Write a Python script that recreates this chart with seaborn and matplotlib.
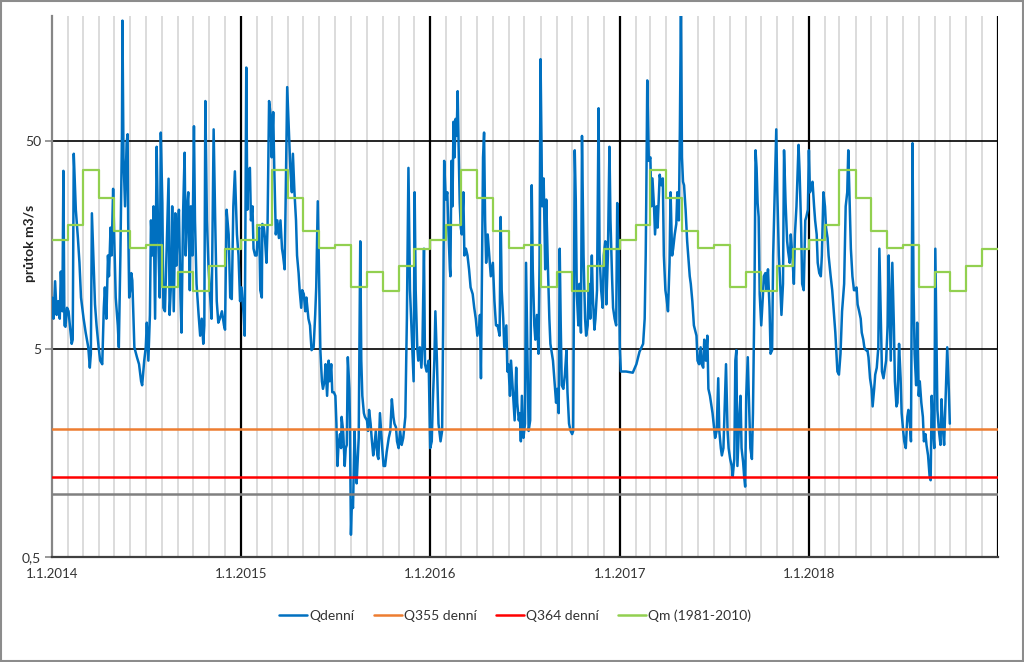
import matplotlib
matplotlib.use("Agg")
import matplotlib.pyplot as plt
import seaborn as sns
import numpy as np
import pandas as pd
from matplotlib.lines import Line2D
from matplotlib.patches import Rectangle
from matplotlib.ticker import FixedLocator, NullLocator

sns.set_theme(style="white")
plt.rcParams["font.family"] = ["Lato", "DejaVu Sans"]

# ---- data (days since 1.1.2014, daily discharge m3/s) ----
qd_day = [
    0, 3, 6, 9, 12, 15, 17, 20, 22, 24, 26, 29, 32, 34, 38, 40, 42, 46, 50, 53,
    56, 61, 65, 70, 73, 75, 77, 80, 83, 86, 90, 93, 97, 100, 102, 105, 108, 110, 113, 115,
    118, 120, 123, 127, 129, 132, 135, 136, 138, 141, 144, 146, 147, 149, 151, 153, 155, 159, 164, 168,
    172, 174, 178, 181, 183, 186, 189, 191, 194, 196, 199, 202, 205, 208, 210, 213, 215, 218, 221, 225,
    227, 230, 232, 235, 238, 240, 243, 245, 248, 250, 253, 256, 258, 261, 263, 266, 268, 271, 274, 276,
    279, 283, 286, 289, 292, 294, 296, 299, 302, 305, 308, 312, 315, 318, 321, 324, 328, 332, 334, 337,
    341, 344, 347, 350, 353, 357, 360, 363, 366, 370, 372,
    373, 375, 377, 379, 382, 384, 387, 389, 392, 395, 397, 400, 402, 405, 406, 409, 411, 414, 416, 419,
    422, 424, 427, 429, 432, 435, 438, 441, 444, 446, 449, 451, 454, 457, 460, 463, 465, 468, 471, 473,
    476, 478, 481, 483, 486, 489, 491, 495, 498, 501, 505, 508, 510, 513, 516, 518, 521, 523, 526, 528,
    531, 534, 536, 539, 541, 544, 547, 549, 551, 553, 556, 558, 559, 562, 565, 567, 569, 571, 574, 575,
    577, 579, 581, 584, 586, 588, 592, 595, 597, 599, 602, 604, 608, 610, 612, 615, 617, 620, 622, 625,
    628, 630, 633, 637, 640, 643, 646, 650, 653, 656, 659, 661, 664, 666, 669, 672, 675, 678, 682, 685,
    688, 691, 695, 698, 700, 702, 705, 707, 710, 713, 715, 718, 720, 723, 727,
    730, 733, 735, 738, 740, 743, 746, 750, 753, 755, 757, 760, 763, 765, 768, 769, 771, 773, 775, 777,
    779, 781, 783, 785, 787, 789, 791, 794, 796, 799, 802, 805, 808, 812, 815, 818, 821, 825, 826, 828,
    830, 832, 834, 836, 838, 841, 844, 847, 851, 854, 857, 860, 864, 866, 868, 871, 873, 877, 879, 881,
    884, 886, 890, 893, 896, 898, 901, 903, 905, 907, 910, 913, 915, 918, 920, 923, 926, 928, 931, 933,
    936, 939, 941, 943, 945, 946, 949, 952, 954, 957, 960, 962, 965, 967, 970, 973, 975, 978, 980, 982,
    984, 987, 990, 993, 995, 998, 1001, 1004, 1006, 1009, 1011, 1013, 1016, 1018, 1021, 1023, 1026, 1029, 1031, 1034,
    1036, 1039, 1042, 1044, 1047, 1049, 1052, 1055, 1057, 1060, 1063, 1065, 1068, 1070, 1073, 1076, 1078, 1081, 1083, 1086,
    1089, 1091, 1094, 1096,
    1098, 1108, 1121, 1128, 1134, 1141, 1144, 1146, 1147, 1149, 1151, 1152, 1155, 1157, 1159, 1162, 1164, 1167, 1169, 1173,
    1176, 1179, 1181, 1184, 1186, 1189, 1192, 1194, 1197, 1199, 1202, 1205, 1207, 1210, 1212, 1214, 1216, 1218, 1220, 1223,
    1226, 1228, 1231, 1233, 1236, 1239, 1241, 1244, 1246, 1249, 1252, 1254, 1257, 1259, 1262, 1265, 1267, 1270, 1272, 1275,
    1278, 1280, 1283, 1286, 1288, 1291, 1293, 1296, 1299, 1301, 1304, 1306, 1309, 1312, 1314, 1317, 1319, 1321, 1323, 1327,
    1329, 1331, 1334, 1336, 1338, 1340, 1343, 1345, 1348, 1351, 1353, 1356, 1358, 1360, 1362, 1364, 1366, 1369, 1372, 1374,
    1377, 1379, 1382, 1385, 1387, 1390, 1392, 1395, 1398, 1400, 1403, 1405, 1408, 1411, 1413, 1416, 1419, 1421, 1424, 1426,
    1429, 1432, 1434, 1437, 1441, 1443, 1446, 1448, 1451, 1454, 1456, 1459, 1461,
    1463, 1465, 1468, 1471, 1473, 1476, 1478, 1481, 1484, 1486, 1489, 1492, 1494, 1497, 1499, 1503, 1506, 1509, 1512, 1516,
    1519, 1522, 1525, 1529, 1532, 1535, 1537, 1540, 1542, 1545, 1548, 1550, 1553, 1555, 1558, 1561, 1563, 1566, 1568, 1571,
    1574, 1576, 1579, 1582, 1584, 1587, 1589, 1592, 1595, 1597, 1600, 1602, 1605, 1608, 1610, 1613, 1615, 1617, 1619, 1622,
    1625, 1627, 1630, 1632, 1635, 1638, 1640, 1643, 1645, 1648, 1651, 1653, 1656, 1658, 1661, 1663, 1665, 1668, 1670, 1673,
    1675, 1678, 1681, 1683, 1686, 1688, 1691, 1694, 1696, 1698, 1700, 1703, 1705, 1707, 1709, 1712, 1715, 1717, 1720, 1722,
    1725, 1728, 1731, 1733,
]
qd_val = [
    8.85, 7.0, 10.6, 7.3, 8.5, 7.0, 11.8, 7.6, 36, 6.5, 6.4, 7.9, 7.6, 6.7, 5.3, 5.55, 43.5, 23.4, 17.1, 13,
    8.85, 7.0, 6.0, 5.1, 4.07, 4.75, 22.5, 13.6, 8.2, 6.5, 5.1, 4.4, 4.23, 7.9, 9.9, 7.0, 14.1, 11.2, 19.2, 14.1,
    29.5, 17.8, 8.85, 6.5, 5.1, 14.1, 53, 190, 41.8, 24.3, 49, 54, 20.8, 8.85, 9.6, 11.6, 10.7, 5.1, 4.57, 4.23,
    3.5, 3.35, 4.4, 5.1, 6.7, 4.4, 7.3, 20.8, 14.1, 24.3, 7.0, 47, 17.1, 8.85, 55, 25.2, 7.9, 7.6, 14.1, 33,
    7.3, 10.7, 24.3, 7.6, 22.5, 12.6, 19.2, 23.4, 8.85, 6.0, 22.5, 44, 14.1, 24.3, 28.4, 9.6, 24.3, 14.1, 59, 20.8,
    10.3, 7.3, 5.8, 7.0, 5.3, 6.5, 78, 20.8, 12.6, 9.2, 7.0, 57, 20.8, 8.5, 6.7, 7.0, 7.6, 6.5, 6.2, 23.4,
    17.8, 8.85, 8.7, 24.3, 35.8, 17.8, 14.1, 8.5, 9.9, 7.3, 5.8,
    14.1, 113, 23.4, 35.8, 37.2, 20.8, 24.3, 15.2, 14.1, 14.1, 17.8, 19.2, 9.6, 8.85, 20, 19.2, 17.1, 13, 19.2, 78,
    67, 41.8, 69, 37.2, 17.8, 20.8, 17.1, 20.8, 15.2, 14.1, 12.1, 26.2, 91, 59, 37.2, 28.4, 43.5, 28.4, 20.8, 14.1,
    11.6, 9.6, 7.9, 9.6, 9.2, 7.6, 8.85, 7.0, 6.5, 4.94, 5.1, 7.3, 9.9, 25.7, 9.6, 4.94, 3.5, 3.22, 3.5, 4.23,
    2.98, 4.4, 3.5, 4.23, 3.1, 3.1, 2.98, 2.19, 1.37, 1.73, 1.95, 1.67, 2.36, 2.02, 1.37, 1.67, 1.73, 4.57, 3.22, 2.27,
    0.64, 0.93, 0.86, 2.02, 1.37, 1.13, 1.87, 16.5, 4.4, 2.98, 2.46, 2.36, 2.27, 2.02, 2.55, 2.19, 1.87, 1.54, 1.67, 2.02,
    1.54, 1.48, 2.46, 1.73, 1.37, 1.37, 1.6, 1.87, 2.02, 2.87, 2.36, 2.19, 2.1, 1.8, 1.67, 2.02, 1.73, 1.87, 2.36, 7.0,
    37.2, 9.6, 5.3, 3.5, 28.4, 9.6, 5.1, 4.4, 5.1, 4.07, 5.1, 15.2, 4.23, 3.9, 4.4,
    1.67, 1.8, 2.76, 4.4, 7.6, 4.4, 2.19, 1.8, 2.02, 6.5, 40.2, 26.2, 28.4, 19.2, 12.1, 11.2, 40.2, 24.3, 62, 41.8,
    64, 53, 87, 45.2, 25.2, 19.2, 17.8, 28.4, 14.1, 15.2, 14.1, 12.1, 9.9, 9.2, 7.9, 7.0, 5.8, 6.5, 7.3, 3.62,
    13, 41.8, 55, 20.8, 13, 17.8, 14.1, 11.2, 13, 8.5, 6.5, 6.5, 5.8, 21.6, 9.6, 7.0, 5.1, 6.5, 3.9, 4.23,
    2.98, 4.4, 2.98, 2.27, 4.07, 2.76, 2.27, 2.46, 1.8, 2.98, 1.87, 2.19, 13, 4.4, 2.02, 2.27, 30.7, 12.1, 6.5, 5.55,
    7.3, 4.75, 12.6, 124, 45.2, 24.3, 33.1, 12.1, 26.2, 13, 7.0, 5.3, 4.75, 4.4, 3.5, 2.76, 3.22, 2.46, 15.2, 6.5,
    3.35, 3.22, 3.77, 4.94, 3.1, 2.19, 2.02, 1.95, 2.02, 45.2, 26.2, 9.2, 6.5, 10.3, 6.0, 53, 14.1, 7.0, 5.8, 6.5,
    10.3, 7.0, 14.1, 8.85, 6.2, 7.0, 9.6, 72, 14.1, 9.6, 7.9, 14.1, 16.5, 8.2, 14.1, 47, 20.8, 11.2, 7.9, 7.0,
    6.5, 25.2, 14.1, 5.1,
    3.9, 3.9, 3.85, 4.23, 4.85, 5.3, 7.0, 14.1, 25.2, 98, 55, 40.2, 41.8, 24.3, 33.1, 24.3, 17.8, 24.3, 19.2, 34.5,
    30.7, 33.1, 14.1, 9.6, 8.85, 7.6, 13, 28.4, 14.1, 15.2, 17.8, 20, 28.4, 20.8, 59, 230, 41.8, 31.9, 30.7, 23.4,
    16.5, 14.1, 11.2, 10.3, 8.5, 6.5, 6.2, 5.8, 4.4, 4.23, 5.1, 4.23, 4.07, 5.55, 4.4, 5.8, 3.22, 2.98, 2.76, 2.46,
    2.1, 1.87, 2.02, 3.62, 2.02, 1.67, 1.54, 1.67, 2.98, 4.23, 2.02, 1.67, 1.48, 1.37, 1.22, 1.48, 4.4, 4.94, 1.37, 2.46,
    2.98, 1.67, 1.43, 1.22, 1.09, 2.98, 4.57, 2.98, 1.67, 1.48, 2.46, 9.6, 45.2, 37.2, 25.2, 21.6, 9.2, 6.5, 8.85, 11.2,
    11.6, 9.6, 12.1, 7.9, 4.75, 4.94, 14.1, 28.4, 57, 28.4, 14.1, 11.2, 7.3, 10.3, 45.2, 25.2, 16.5, 14.7, 13, 17.8,
    14.1, 10.3, 17.8, 24.3, 48, 35.8, 19.2, 10.3, 9.6, 20.8, 21.6, 23.4, 45.2,
    28.4, 29.5, 31.9, 24.3, 20.8, 17.8, 13, 11.6, 11.2, 14.1, 28.4, 24.3, 19.2, 17.1, 14.1, 11.2, 9.6, 7.6, 6.0, 3.9,
    3.77, 4.75, 7.6, 10.3, 24.3, 28.4, 45.2, 23.4, 15.2, 11.2, 9.6, 9.6, 9.9, 8.2, 7.6, 7.0, 6.0, 5.55, 5.1, 4.94,
    4.94, 4.57, 3.62, 3.22, 2.65, 3.22, 3.77, 4.07, 5.1, 15.2, 6.5, 3.9, 3.62, 4.07, 4.4, 6.5, 14.1, 7.9, 4.4, 13,
    6.5, 3.5, 2.65, 2.76, 5.3, 3.62, 2.46, 2.02, 1.8, 1.67, 2.36, 2.55, 2.19, 1.8, 48.9, 9.6, 4.75, 3.35, 6.7, 2.98,
    3.5, 2.76, 2.36, 1.8, 1.95, 1.73, 1.54, 1.22, 1.17, 2.98, 2.19, 1.67, 15.2, 6.5, 2.55, 2.02, 1.73, 2.87, 2.02, 1.73,
    2.98, 5.1, 3.22, 2.19,
]
# long-term monthly means Qm (1981-2010), Jan..Dec
qm_month = [16.8, 19.8, 36.3, 26.6, 18.5, 15.35, 15.8, 9.97, 11.7, 9.5, 12.5, 15.1]
q355 = 2.06
q364 = 1.21
q_gray = 1.0
year_ticks = ["2014-01-01", "2015-01-01", "2016-01-01", "2017-01-01", "2018-01-01"]
year_labels = ["1.1.2014", "1.1.2015", "1.1.2016", "1.1.2017", "1.1.2018"]
y_ticks = [0.5, 5, 50]
y_labels = ["0,5", "5", "50"]
legend_labels = ["Qdenní", "Q355 denní", "Q364 denní", "Qm (1981-2010)"]

c_blue, c_orange, c_red, c_green, c_gray = "#0070C0", "#ED7D31", "#FF0000", "#92D050", "#808080"

start = pd.Timestamp("2014-01-01")
df = pd.DataFrame({"date": start + pd.to_timedelta(qd_day, unit="D"), "Q": qd_val})
months = pd.date_range("2014-01-01", "2019-01-01", freq="MS")
qm_vals = list(np.tile(qm_month, 5)) + [qm_month[-1]]
dfm = pd.DataFrame({"date": months, "Qm": qm_vals})

fig = plt.figure(figsize=(10.24, 6.62), dpi=100)
ax = fig.add_axes([52 / 1024, 1 - 557 / 662, (998 - 52) / 1024, (557 - 16) / 662])

# grid
for m in months:
    if m.month == 1 and m.year > 2014:
        ax.axvline(m, color="black", lw=1.6, zorder=1)
    elif m.month != 1:
        ax.axvline(m, color="#d9d9d9", lw=1.3, zorder=0.5)
for g in [5, 50]:
    ax.axhline(g, color="black", lw=1.2, zorder=1)

sns.lineplot(data=df, x="date", y="Q", color=c_blue, lw=1.8, ax=ax, zorder=3)
ax.axhline(q_gray, color=c_gray, lw=1.8, zorder=3)
ax.axhline(q355, color=c_orange, lw=1.8, zorder=4)
ax.axhline(q364, color=c_red, lw=1.8, zorder=4)
sns.lineplot(data=dfm, x="date", y="Qm", color=c_green, lw=1.6, ax=ax,
             drawstyle="steps-post", zorder=5)

ax.set_yscale("log")
ax.set_ylim(0.5, 200)
ax.set_xlim(pd.Timestamp("2014-01-01"), pd.Timestamp("2019-01-01"))
ax.yaxis.set_major_locator(FixedLocator(y_ticks))
ax.yaxis.set_minor_locator(NullLocator())
ax.set_yticklabels(y_labels)
ax.set_xticks(pd.to_datetime(year_ticks))
ax.set_xticklabels(year_labels)
ax.xaxis.set_minor_locator(NullLocator())
ax.set_xlabel("")
ax.set_ylabel("")
ax.tick_params(axis="y", which="major", length=5, width=1.2, color="#868686",
               direction="out", labelsize=10, labelcolor="#333333", pad=3, left=True)
ax.tick_params(axis="x", which="major", length=0, labelsize=9.5, labelcolor="#333333", pad=8)

for s in ["top", "right"]:
    ax.spines[s].set_visible(False)
ax.spines["left"].set_color("#868686")
ax.spines["left"].set_linewidth(1.6)
ax.spines["bottom"].set_color("#404040")
ax.spines["bottom"].set_linewidth(1.6)

fig.text(30 / 1024, 1 - 243 / 662, "průtok m3/s", rotation=90, fontweight="bold",
         ha="center", va="center", fontsize=10, color="#222222")

handles = [Line2D([], [], color=c, lw=1.8) for c in [c_blue, c_orange, c_red, c_green]]
fig.legend(handles, legend_labels, loc="center", bbox_to_anchor=(0.503, 1 - 616 / 662),
           ncol=4, frameon=False, fontsize=10, handlelength=2.0, handletextpad=0.15,
           columnspacing=1.4, labelcolor="#333333")

fig.add_artist(Rectangle((0.001, 0.0015), 0.998, 0.997, transform=fig.transFigure,
                         fill=False, edgecolor="#8c8c8c", lw=1.5))

fig.savefig("out.png", dpi=100)
